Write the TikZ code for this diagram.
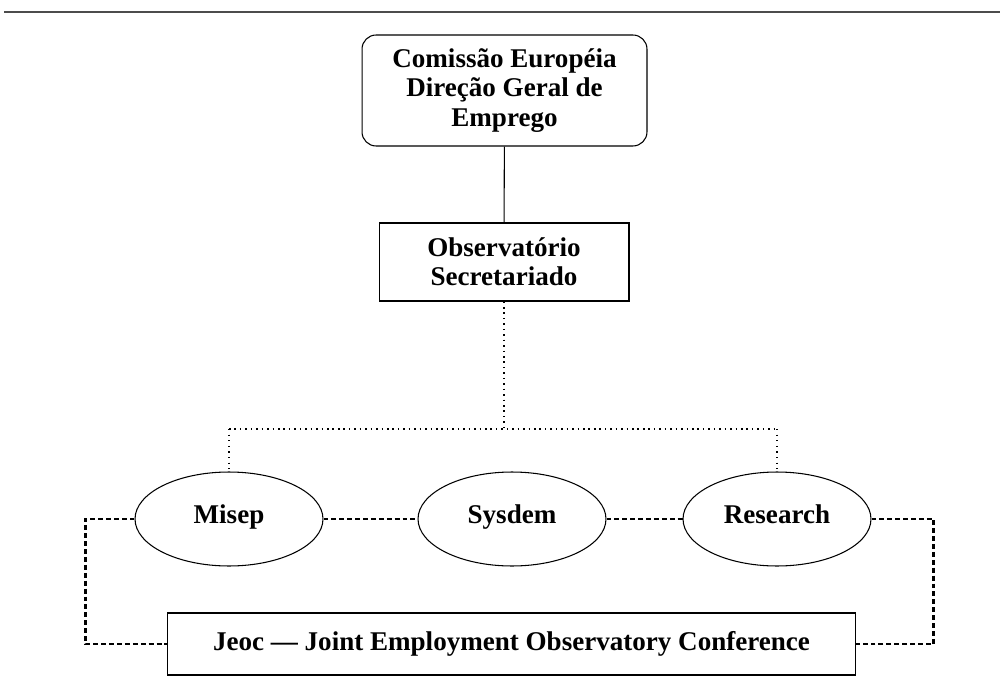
\documentclass[tikz,border=0pt]{standalone}
\usepackage{fontspec}
\setmainfont{Liberation Serif}
\usetikzlibrary{shapes.geometric,positioning}
\begin{document}
\begin{tikzpicture}[
  x=0.02cm, y=-0.02cm,
  font=\fontsize{15.4}{16.7}\selectfont\bfseries,
  box/.style={draw, line width=0.6pt, align=center, inner sep=2pt},
  oval/.style={draw, ellipse, line width=0.6pt, minimum width=3.76cm,
               minimum height=1.88cm, inner sep=0pt,
               text height=0.75em, text depth=0.2em},
  dotbig/.style={line width=1.5pt, dash pattern=on 0.9pt off 2.2pt},
  dotthin/.style={line width=0.8pt, dash pattern=on 0.6pt off 2.6pt},
  dashy/.style={line width=1.5pt, dash pattern=on 2.8pt off 1.7pt},
]
\useasboundingbox (0,0) rectangle (1000,689);
\draw[black!70, line width=0.9pt] (4,12) -- (1000,12);

% ---------- Direction ----------
\node[box, rounded corners=8pt, minimum width=5.7cm, minimum height=2.22cm]
      (dg) at (504.5,90.5) {Comissão Européia\\Direção Geral de\\Emprego};
\node[box, minimum width=5cm, minimum height=1.56cm]
      (obs) at (504,262) {Observatório\\Secretariado};
\coordinate (bar) at (504,429);

% ---------- Networks ----------
\node[oval] (misep)    at (229,519) {Misep};
\node[oval] (sysdem)   at (512,519) {Sysdem};
\node[oval] (research) at (777,519) {Research};

\node[box, minimum width=13.78cm, minimum height=1.24cm]
      (jeoc) at (511.5,644) {Jeoc --- Joint Employment Observatory Conference};

% ---------- Lines ----------
\draw[line width=0.6pt] (dg) -- (obs);
\draw[dotbig] (obs.south) -- (bar);
\draw[dotbig] (misep.north |- bar) -- (research.north |- bar);
\draw[dotthin] (misep.north |- bar) -- (misep.north);
\draw[dotthin] (research.north |- bar) -- (research.north);

\draw[dashy] (misep) -- (sysdem);
\draw[dashy] (sysdem) -- (research);
\draw[dashy] (misep.west) -- ++(-49,0) |- (jeoc.west);
\draw[dashy] (research.east) -- ++(62,0) |- (jeoc.east);

\end{tikzpicture}
\end{document}
